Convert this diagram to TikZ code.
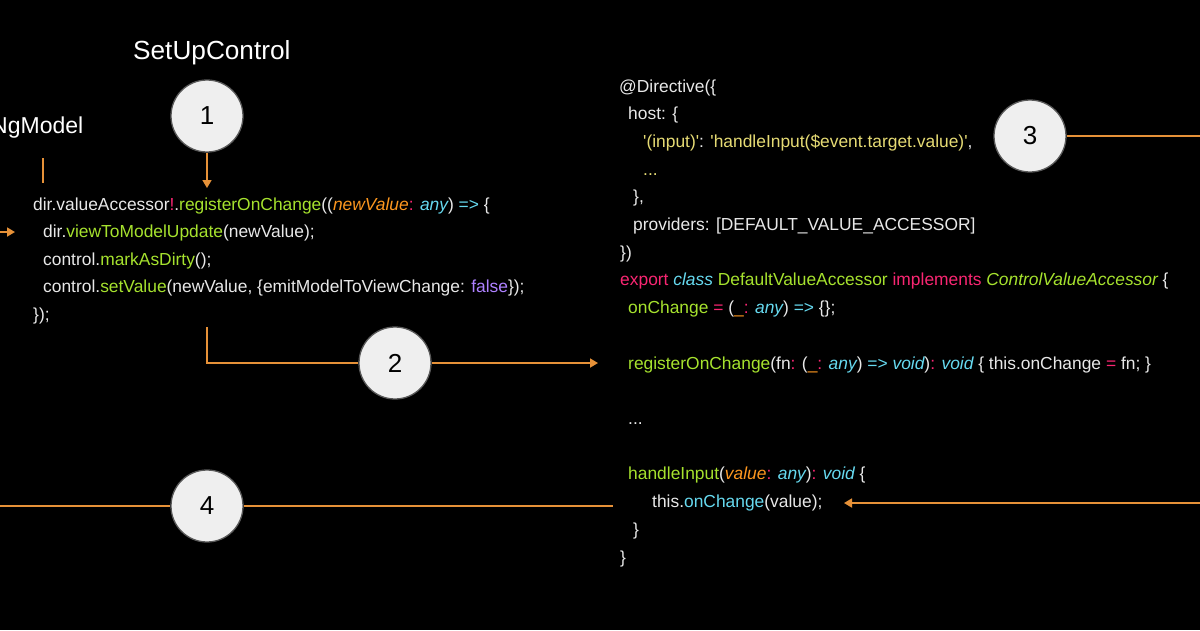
\documentclass[tikz,border=0pt]{standalone}
\usepackage{fontspec}
\setmainfont{Liberation Sans}
\usetikzlibrary{arrows.meta}
\definecolor{cw}{HTML}{E8E8E8}
\definecolor{cg}{HTML}{A6E22E}
\definecolor{cp}{HTML}{F92672}
\definecolor{cc}{HTML}{66D9EF}
\definecolor{co}{HTML}{FD971F}
\definecolor{cv}{HTML}{AE81FF}
\definecolor{cy}{HTML}{E6DB74}
\definecolor{arr}{HTML}{E69138}
\definecolor{circfill}{HTML}{EFEFEF}
\newcommand{\cgrn}[1]{\textcolor{cg}{#1}}
\newcommand{\cpnk}[1]{\textcolor{cp}{#1}}
\newcommand{\ccyn}[1]{\textcolor{cc}{#1}}
\newcommand{\corg}[1]{\textcolor{co}{#1}}
\newcommand{\cpur}[1]{\textcolor{cv}{#1}}
\newcommand{\cyel}[1]{\textcolor{cy}{#1}}
\newcommand{\q}{\textquotesingle}
\begin{document}
\begin{tikzpicture}[x=1pt,y=-1pt,
  code/.style={anchor=base west,inner sep=0pt,text=cw,font=\fontsize{17.4}{20}\selectfont},
  title/.style={anchor=base west,inner sep=0pt,text=white,font=\fontsize{26.2}{30}\selectfont},
  num/.style={circle,minimum size=72pt,inner sep=0pt,fill=circfill,draw=black!65,line width=1.3pt,font=\fontsize{26}{30}\selectfont,text=black},
  conn/.style={draw=arr,line width=1.7pt},
  arrow/.style={conn,-{Triangle[width=9pt,length=8pt]}}]
\fill[black] (0,0) rectangle (1200,630);
\useasboundingbox (0,0) rectangle (1200,630);

% titles
\node[title] (setup) at (133,59) {SetUpControl};
\node[title,font=\fontsize{23}{28}\selectfont] (ngmodel) at (-9,133) {NgModel};

% circles
\node[num] (c1) at (207,116) {1};
\node[num] (c2) at (395,363) {2};
\node[num] (c3) at (1030,136) {3};
\node[num] (c4) at (207,506) {4};

% left code
\node[code] (l1) at (33,210) {dir.valueAccessor\cpnk{!}.\cgrn{registerOnChange}((\corg{\itshape newValue}\cpnk{:} \ccyn{\itshape any}) \ccyn{=>} \{};
\node[code] (l2) at (43,237.5) {dir.\cgrn{viewToModelUpdate}(newValue);};
\node[code] (l3) at (43,265) {control.\cgrn{markAsDirty}();};
\node[code] (l4) at (43,292.5) {control.\cgrn{setValue}(newValue, \{emitModelToViewChange: \cpur{false}\});};
\node[code] (l5) at (33,320) {\});};

% right code
\node[code] (r1) at (619,92) {@Directive(\{};
\node[code] (r2) at (628,119.7) {host: \{};
\node[code] (r3) at (643,147.4) {\cyel{\q(input)\q}: \cyel{\q handleInput(\$event.target.value)\q},};
\node[code] (r4) at (643,175.1) {\cyel{...}};
\node[code] (r5) at (633,202.8) {\},};
\node[code] (r6) at (633,230.5) {providers: [DEFAULT\_VALUE\_ACCESSOR]};
\node[code] (r7) at (620,258.2) {\})};
\node[code] (r8) at (620,285.9) {\cpnk{export} \ccyn{\itshape class} \cgrn{DefaultValueAccessor} \cpnk{implements} \cgrn{\itshape ControlValueAccessor} \{};
\node[code] (r9) at (628,313.6) {\cgrn{onChange} \cpnk{=} (\corg{\_}\cpnk{:} \ccyn{\itshape any}) \ccyn{=>} \{\};};
\node[code] (r10) at (628,369) {\cgrn{registerOnChange}(fn\cpnk{:} (\corg{\_}\cpnk{:} \ccyn{\itshape any}) \ccyn{=> \itshape void})\cpnk{:} \ccyn{\itshape void} \{ this.onChange \cpnk{=} fn; \}};
\node[code] (r11) at (628,424.4) {...};
\node[code] (r12) at (628,479.8) {\cgrn{handleInput}(\corg{\itshape value}\cpnk{:} \ccyn{\itshape any})\cpnk{:} \ccyn{\itshape void} \{};
\node[code] (r13) at (652,507.5) {this.\ccyn{onChange}(value);};
\node[code] (r14) at (633,535.2) {\}};
\node[code] (r15) at (620,563) {\}};

% connector coordinates
\coordinate (ngtop) at (43,158);
\coordinate (ngbot) at (43,183);
\coordinate (c1tip) at (207,188);
\coordinate (lin0) at (0,232);
\coordinate (lin1) at (15,232);
\coordinate (b2a) at (207,327);
\coordinate (b2b) at (207,363);
\coordinate (c2tip) at (598,363);
\coordinate (c3end) at (1200,136);
\coordinate (rin0) at (1200,503);
\coordinate (rin1) at (844,503);
\coordinate (c4l) at (0,506);
\coordinate (c4r) at (613,506);

\draw[conn] (ngtop) -- (ngbot);
\draw[arrow] (c1) -- (c1tip);
\draw[arrow] (lin0) -- (lin1);
\draw[conn] (b2a) -- (b2b) -- (c2);
\draw[arrow] (c2) -- (c2tip);
\draw[conn] (c3) -- (c3end);
\draw[arrow] (rin0) -- (rin1);
\draw[conn] (c4l) -- (c4);
\draw[conn] (c4) -- (c4r);
\end{tikzpicture}
\end{document}
